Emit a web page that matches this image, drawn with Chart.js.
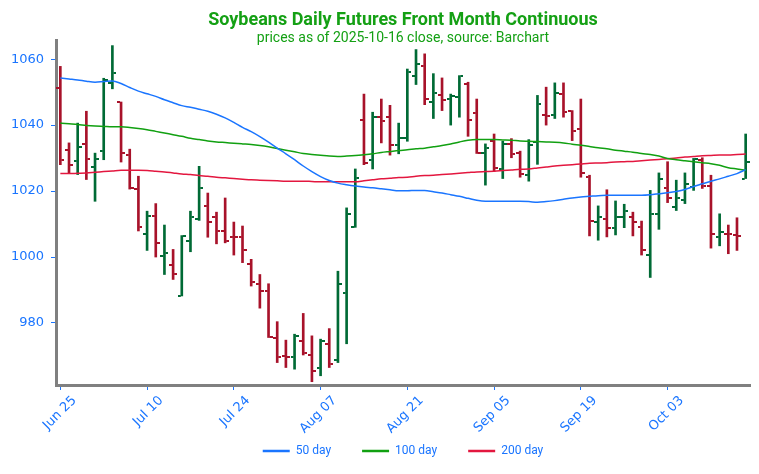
<!DOCTYPE html>
<html>
<head>
<meta charset="utf-8">
<script src="https://cdn.jsdelivr.net/npm/chart.js@4.4.0/dist/chart.umd.min.js"></script>
<style>
  html, body { margin: 0; padding: 0; background: #fff; }
</style>
</head>
<body>
<canvas id="chart" width="759" height="474"></canvas>
<script>
// trading days, Jun 25 .. Oct 16 2025
const dates = [
  'Jun 25', 'Jun 26', 'Jun 27', 'Jun 30',
  'Jul 01', 'Jul 02', 'Jul 03', 'Jul 07', 'Jul 08', 'Jul 09', 'Jul 10', 'Jul 11', 'Jul 14', 'Jul 15',
  'Jul 16', 'Jul 17', 'Jul 18', 'Jul 21', 'Jul 22', 'Jul 23', 'Jul 24', 'Jul 25', 'Jul 28', 'Jul 29',
  'Jul 30', 'Jul 31', 'Aug 01', 'Aug 04', 'Aug 05', 'Aug 06', 'Aug 07', 'Aug 08', 'Aug 11', 'Aug 12',
  'Aug 13', 'Aug 14', 'Aug 15', 'Aug 18', 'Aug 19', 'Aug 20', 'Aug 21', 'Aug 22', 'Aug 25', 'Aug 26',
  'Aug 27', 'Aug 28', 'Aug 29', 'Sep 02', 'Sep 03', 'Sep 04', 'Sep 05', 'Sep 08', 'Sep 09', 'Sep 10',
  'Sep 11', 'Sep 12', 'Sep 15', 'Sep 16', 'Sep 17', 'Sep 18', 'Sep 19', 'Sep 22', 'Sep 23', 'Sep 24',
  'Sep 25', 'Sep 26', 'Sep 29', 'Sep 30', 'Oct 01', 'Oct 02', 'Oct 03', 'Oct 06', 'Oct 07', 'Oct 08',
  'Oct 09', 'Oct 10', 'Oct 13', 'Oct 14', 'Oct 15', 'Oct 16'
];

const opens = [
  1051.2, 1032.3, 1029.2, 1034.4, 1027.3, 1032.2, 1052.7, 1047.0, 1030.8, 1020.5,
  1007.0, 1012.4, 1000.3, 997.6, 988.2, 1004.8, 1011.4, 1015.6, 1012.1, 1008.0,
  1006.1, 1006.1, 998.0, 991.9, 989.7, 975.6, 970.0, 969.7, 974.6, 970.3,
  966.5, 973.6, 968.7, 989.2, 1009.1, 1041.4, 1029.5, 1042.4, 1042.4, 1034.1,
  1036.1, 1055.0, 1058.0, 1047.0, 1049.2, 1048.0, 1048.5, 1052.6, 1043.7, 1031.6,
  1035.3, 1026.8, 1034.4, 1031.4, 1025.0, 1034.9, 1043.2, 1043.2, 1049.5, 1044.2,
  1038.7, 1024.2, 1010.7, 1011.6, 1008.7, 1012.1, 1012.1, 1009.1, 1000.5, 1013.1,
  1021.0, 1015.3, 1017.2, 1021.2, 1029.3, 1021.5, 1006.2, 1007.1, 1006.6, 1023.8
];
const highs = [
  1057.8, 1034.6, 1040.6, 1044.2, 1031.5, 1054.2, 1064.1, 1047.0, 1032.7, 1024.5,
  1013.9, 1016.2, 1009.7, 1002.3, 1006.5, 1013.9, 1027.5, 1019.4, 1013.6, 1017.9,
  1010.6, 1009.4, 999.3, 994.7, 991.9, 980.4, 974.8, 976.6, 982.9, 976.1,
  975.1, 978.3, 995.7, 1014.9, 1026.7, 1049.4, 1043.9, 1047.9, 1046.0, 1040.6,
  1057.0, 1062.9, 1061.6, 1055.6, 1054.3, 1049.4, 1055.0, 1053.0, 1047.9, 1034.3,
  1037.3, 1035.1, 1035.9, 1032.1, 1035.6, 1049.0, 1051.5, 1052.8, 1052.8, 1044.4,
  1047.9, 1024.8, 1015.5, 1020.4, 1017.0, 1016.0, 1013.6, 1010.9, 1020.2, 1025.5,
  1028.9, 1023.3, 1025.5, 1029.9, 1030.1, 1024.8, 1013.1, 1009.7, 1011.9, 1037.3
];
const lows = [
  1028.0, 1025.5, 1025.0, 1023.5, 1016.9, 1029.5, 1051.0, 1028.8, 1020.6, 1007.9,
  1002.0, 1000.0, 994.7, 993.2, 988.2, 1001.6, 1011.1, 1006.0, 1004.0, 1004.3,
  1000.6, 998.3, 991.2, 984.5, 975.6, 968.0, 966.5, 966.0, 970.3, 962.2,
  964.0, 966.5, 968.0, 973.7, 1009.0, 1028.0, 1026.7, 1034.6, 1030.9, 1031.3,
  1035.1, 1052.3, 1046.2, 1042.0, 1044.4, 1040.0, 1042.4, 1036.6, 1031.4, 1021.8,
  1026.0, 1023.8, 1030.1, 1024.2, 1023.0, 1028.1, 1040.0, 1042.0, 1042.4, 1035.3,
  1024.2, 1006.4, 1005.1, 1006.1, 1006.7, 1008.9, 1006.4, 1000.6, 993.8, 1008.4,
  1016.5, 1014.1, 1016.2, 1020.2, 1020.8, 1002.7, 1003.4, 1001.0, 1002.0, 1023.8
];
const closes = [
  1029.5, 1028.0, 1033.5, 1029.7, 1029.8, 1053.7, 1055.8, 1031.5, 1020.8, 1009.2,
  1012.4, 1004.3, 1001.1, 994.9, 1006.3, 1012.2, 1021.0, 1010.7, 1008.0, 1004.8,
  1006.0, 1002.0, 992.5, 989.7, 975.8, 969.7, 969.8, 976.1, 971.0, 965.5,
  974.6, 967.7, 991.7, 1012.9, 1024.0, 1028.5, 1042.6, 1041.1, 1034.1, 1036.1,
  1056.1, 1058.5, 1047.9, 1049.7, 1047.7, 1048.7, 1054.8, 1041.4, 1031.6, 1033.1,
  1027.1, 1034.4, 1031.3, 1025.2, 1034.1, 1046.4, 1042.9, 1049.7, 1043.9, 1038.2,
  1025.5, 1010.9, 1012.1, 1008.9, 1012.1, 1013.9, 1010.7, 1002.0, 1013.1, 1023.8,
  1018.0, 1018.0, 1022.2, 1029.6, 1021.5, 1006.9, 1007.7, 1006.9, 1006.5, 1028.8
];

// moving averages
const ma50 = [
  1054.3, 1054.0, 1053.7, 1053.3, 1053.0, 1053.2, 1053.4, 1052.6, 1051.4, 1050.3,
  1049.5, 1048.7, 1047.7, 1046.8, 1045.9, 1045.4, 1044.8, 1044.2, 1043.3, 1042.2,
  1040.8, 1039.3, 1038.0, 1036.5, 1034.8, 1033.0, 1031.3, 1029.5, 1027.6, 1025.9,
  1024.4, 1023.2, 1022.4, 1021.9, 1021.5, 1021.2, 1021.0, 1020.7, 1020.4, 1020.1,
  1020.1, 1020.2, 1020.2, 1019.8, 1019.4, 1018.9, 1018.4, 1017.8, 1017.2, 1016.9,
  1016.9, 1016.9, 1016.9, 1016.9, 1016.8, 1016.6, 1016.8, 1017.1, 1017.5, 1017.9,
  1018.2, 1018.4, 1018.6, 1018.7, 1018.75, 1018.75, 1018.75, 1018.75, 1018.9, 1019.2,
  1019.5, 1019.9, 1020.5, 1021.4, 1022.2, 1023.0, 1023.7, 1024.5, 1025.3, 1026.5
];
const ma100 = [
  1040.6, 1040.4, 1040.2, 1039.9, 1039.7, 1039.6, 1039.5, 1039.5, 1039.3, 1039.0,
  1038.6, 1038.1, 1037.6, 1037.1, 1036.6, 1036.0, 1035.6, 1035.2, 1034.9, 1034.7,
  1034.5, 1034.3, 1034.1, 1033.8, 1033.4, 1032.9, 1032.4, 1031.9, 1031.4, 1031.1,
  1030.85, 1030.6, 1030.5, 1030.6, 1030.75, 1031.0, 1031.3, 1031.7, 1032.0, 1032.3,
  1032.5, 1032.8, 1033.0, 1033.4, 1033.8, 1034.3, 1034.9, 1035.4, 1035.6, 1035.6,
  1035.6, 1035.5, 1035.4, 1035.2, 1035.1, 1035.0, 1034.9, 1034.8, 1034.6, 1034.2,
  1033.9, 1033.5, 1033.1, 1032.8, 1032.4, 1032.1, 1031.8, 1031.4, 1031.1, 1030.6,
  1029.9, 1029.5, 1029.2, 1028.9, 1028.6, 1028.3, 1027.8, 1027.1, 1026.7, 1026.3
];
const ma200 = [
  1025.3, 1025.3, 1025.4, 1025.5, 1025.7, 1025.9, 1026.1, 1026.3, 1026.3, 1026.3,
  1026.2, 1026.0, 1025.8, 1025.5, 1025.2, 1025.0, 1024.7, 1024.5, 1024.2, 1024.0,
  1023.8, 1023.6, 1023.4, 1023.3, 1023.2, 1023.1, 1023.0, 1023.0, 1023.0, 1022.9,
  1022.8, 1022.8, 1022.8, 1022.8, 1022.8, 1023.1, 1023.4, 1023.7, 1023.9, 1024.1,
  1024.2, 1024.5, 1024.7, 1024.8, 1025.0, 1025.2, 1025.4, 1025.6, 1025.8, 1025.9,
  1026.0, 1026.2, 1026.4, 1026.6, 1026.7, 1027.0, 1027.3, 1027.6, 1027.8, 1028.0,
  1028.2, 1028.4, 1028.5, 1028.6, 1028.8, 1028.9, 1029.0, 1029.2, 1029.4, 1029.6,
  1029.8, 1030.0, 1030.3, 1030.5, 1030.7, 1030.8, 1030.9, 1030.9, 1031.1, 1031.2
];

const UP = '#006a35';
const DOWN = '#a8122a';
const BLUE = '#1a75ff';
const TITLE_GREEN = '#14a014';

const isUp = i => closes[i] >= opens[i];

// little open/close tick images, centred on the bar
function tickImage(color, side) {
  const c = document.createElement('canvas');
  c.width = 8;
  c.height = 2;
  const g = c.getContext('2d');
  g.fillStyle = color;
  if (side === 'open') g.fillRect(0, 0, 3, 2);
  else g.fillRect(5, 0, 3, 2);
  return c;
}
const marks = {
  open: { up: tickImage(UP, 'open'), down: tickImage(DOWN, 'open') },
  close: { up: tickImage(UP, 'close'), down: tickImage(DOWN, 'close') }
};

const maLine = (label, data, color) => ({
  type: 'line',
  label: label,
  data: data,
  borderColor: color,
  backgroundColor: color,
  borderWidth: 1.5,
  pointRadius: 0,
  cubicInterpolationMode: 'monotone',
  order: 0
});

new Chart(document.getElementById('chart'), {
  type: 'bar',
  data: {
    labels: dates,
    datasets: [
      maLine('50 day', ma50, '#1a75ff'),
      maLine('100 day', ma100, '#11a011'),
      maLine('200 day', ma200, '#e3173f'),
      {
        type: 'bar',
        label: 'range',
        data: lows.map((l, i) => [l, highs[i]]),
        backgroundColor: ctx => isUp(ctx.dataIndex) ? UP : DOWN,
        barThickness: 2,
        order: 2
      },
      {
        type: 'line',
        label: 'open',
        data: opens,
        showLine: false,
        pointRadius: 1,
        pointStyle: ctx => marks.open[isUp(ctx.dataIndex) ? 'up' : 'down'],
        order: 1
      },
      {
        type: 'line',
        label: 'close',
        data: closes,
        showLine: false,
        pointRadius: 1,
        pointStyle: ctx => marks.close[isUp(ctx.dataIndex) ? 'up' : 'down'],
        order: 1
      }
    ]
  },
  options: {
    responsive: false,
    animation: false,
    devicePixelRatio: 1,
    events: [],
    layout: { padding: { left: 0, right: 9, top: 0, bottom: 7 } },
    scales: {
      x: {
        type: 'category',
        offset: true,
        border: { color: '#808080', width: 3 },
        grid: { offset: false, drawOnChartArea: false, tickColor: BLUE, tickLength: 5 },
        ticks: {
          autoSkip: false,
          minRotation: 45,
          maxRotation: 45,
          labelOffset: 14,
          color: BLUE,
          font: { family: 'DejaVu Sans', size: 13 },
          padding: 3
        },
        afterBuildTicks: s => { s.ticks = s.ticks.filter(t => t.value % 10 === 0); },
        afterFit: s => { s.height = 55; }
      },
      y: {
        min: 961.2,
        max: 1065.8,
        border: { color: '#808080', width: 3 },
        grid: { drawOnChartArea: false, tickColor: BLUE, tickLength: 5 },
        ticks: {
          stepSize: 20,
          color: BLUE,
          font: { family: 'DejaVu Sans', size: 13 },
          padding: 7,
          callback: v => String(v)
        },
        afterBuildTicks: s => { s.ticks = s.ticks.filter(t => Math.abs(t.value % 20) < 1e-6); },
        afterFit: s => { s.width = 56; }
      }
    },
    plugins: {
      tooltip: { enabled: false },
      title: {
        display: true,
        text: 'Soybeans Daily Futures Front Month Continuous',
        color: TITLE_GREEN,
        fullSize: false,
        font: { family: 'Roboto', size: 18, weight: 'bold', lineHeight: 1.0 },
        padding: { top: 11, bottom: 0 }
      },
      subtitle: {
        display: true,
        text: 'prices as of 2025-10-16 close, source: Barchart',
        color: TITLE_GREEN,
        fullSize: false,
        font: { family: 'Roboto', size: 14, lineHeight: 1.0 },
        padding: { top: 2, bottom: -5 }
      },
      legend: {
        display: true,
        position: 'bottom',
        fullSize: false,
        // empty title with negative padding pulls the row up under the axis labels
        title: { display: true, text: '', font: { size: 1, lineHeight: 1 }, padding: { top: -13.5, bottom: -13.5 } },
        labels: {
          boxWidth: 27,
          boxHeight: 2.5,
          padding: 31,
          color: BLUE,
          font: { family: 'Roboto', size: 12 },
          filter: item => item.datasetIndex < 3,
          generateLabels: chart => Chart.defaults.plugins.legend.labels.generateLabels(chart)
            .map(l => Object.assign(l, { lineWidth: 0 }))
        }
      }
    }
  }
});
</script>
</body>
</html>
